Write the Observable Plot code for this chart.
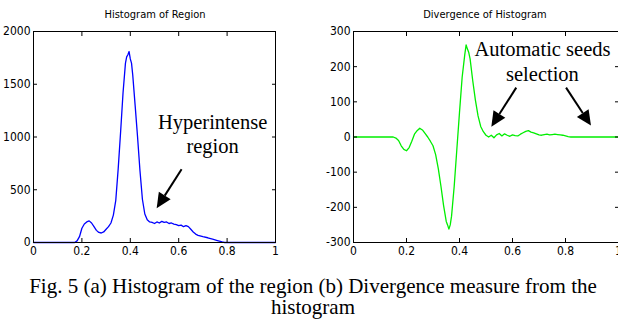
<!DOCTYPE html>
<html>
<head>
<meta charset="utf-8">
<script src="https://cdn.jsdelivr.net/npm/d3@7"></script>
<script src="https://cdn.jsdelivr.net/npm/@observablehq/plot@0.6"></script>
<style>
  html, body { margin: 0; padding: 0; background: #fff; overflow: hidden; }
  #wrap { position: relative; width: 618px; height: 322px; overflow: hidden; background: #fff; }
  .panel { position: absolute; top: 0; }
  .panel svg { max-width: none !important; }
  .ptitle { position: absolute; top: 8px; font: 11px "Liberation Sans Narrow", "DejaVu Sans Condensed", "Arial Narrow", "Liberation Sans", sans-serif; font-stretch: condensed; color: #000; white-space: nowrap; transform: translateX(-50%); }
  .cap { position: absolute; left: 0; width: 626px; text-align: center; font: 21px "Liberation Serif", "Times New Roman", serif; color: #000; line-height: 20px; white-space: nowrap; }
</style>
</head>
<body>
<div id="wrap">
  <div class="ptitle" style="left:155px">Histogram of Region</div>
  <div class="ptitle" style="left:485px">Divergence of Histogram</div>
  <div id="left" class="panel" style="left:0px; width:300px"></div>
  <div id="right" class="panel" style="left:300px; width:330px"></div>
  <div class="cap" style="top:276px">Fig. 5 (a) Histogram of the region (b) Divergence measure from the</div>
  <div class="cap" style="top:297px">histogram</div>
</div>
<script>
// ---- Data: histogram of region (a) ----
const histX = [0, 0.10, 0.17, 0.18, 0.19, 0.20, 0.21, 0.22, 0.23, 0.24, 0.25, 0.26, 0.27, 0.28, 0.29, 0.30, 0.31, 0.32, 0.33, 0.34, 0.35, 0.36, 0.37, 0.38, 0.385, 0.39, 0.395, 0.40, 0.405, 0.41, 0.42, 0.43, 0.44, 0.45, 0.46, 0.47, 0.48, 0.49, 0.50, 0.51, 0.52, 0.53, 0.54, 0.55, 0.56, 0.57, 0.58, 0.59, 0.60, 0.61, 0.62, 0.63, 0.64, 0.65, 0.66, 0.67, 0.68, 0.70, 0.72, 0.74, 0.76, 0.78, 0.79, 0.85, 1.0];
const histY = [0, 0, 0, 15, 55, 135, 175, 195, 205, 185, 150, 115, 95, 90, 100, 125, 150, 185, 260, 400, 700, 1050, 1420, 1700, 1760, 1780, 1810, 1740, 1700, 1590, 1300, 1000, 680, 410, 270, 215, 195, 190, 180, 195, 185, 200, 190, 195, 180, 185, 175, 170, 160, 165, 150, 160, 150, 125, 100, 80, 68, 55, 45, 32, 18, 5, 0, 0, 0];

// ---- Data: divergence of histogram (b) ----
const divX = [0, 0.10, 0.15, 0.16, 0.17, 0.18, 0.19, 0.20, 0.21, 0.22, 0.23, 0.24, 0.25, 0.26, 0.27, 0.28, 0.29, 0.30, 0.31, 0.32, 0.33, 0.34, 0.35, 0.355, 0.36, 0.365, 0.37, 0.38, 0.39, 0.40, 0.41, 0.42, 0.425, 0.43, 0.435, 0.44, 0.45, 0.46, 0.47, 0.48, 0.49, 0.50, 0.51, 0.52, 0.53, 0.54, 0.55, 0.56, 0.57, 0.58, 0.59, 0.60, 0.61, 0.62, 0.63, 0.64, 0.65, 0.66, 0.67, 0.68, 0.69, 0.70, 0.71, 0.72, 0.73, 0.74, 0.75, 0.76, 0.77, 0.78, 0.79, 0.80, 0.81, 0.82, 0.90, 1.0];
const divY = [0, 0, 0, -3, -10, -25, -35, -39, -30, -12, 8, 18, 25, 20, 10, 0, -12, -25, -50, -90, -140, -195, -240, -250, -262, -250, -225, -140, -35, 70, 170, 235, 262, 250, 240, 222, 160, 105, 60, 30, 15, 5, 0, 5, -2, 6, 10, 3, 9, 5, 2, 6, 4, 3, 8, 12, 16, 18, 14, 12, 9, 6, 5, 7, 8, 6, 7, 8, 7, 6, 5, 3, 1, 0, 0, 0];

// ---- Annotations ----
const leftLabels = ["Hyperintense", "region"];
const leftLabelX = [0.74, 0.74];
const leftLabelY = [1135, 915];
const leftArrowFrom = [[0.614, 690]];
const leftArrowTo = [[0.511, 320]];

const rightLabels = ["Automatic seeds", "selection"];
const rightLabelX = [0.713, 0.713];
const rightLabelY = [249, 177];
const rightArrowFrom = [[0.616, 139], [0.804, 139]];
const rightArrowTo = [[0.522, 28], [0.898, 31]];

const xTicks = [0, 0.2, 0.4, 0.6, 0.8, 1];
const histTicks = [0, 500, 1000, 1500, 2000];
const divTicks = [-300, -200, -100, 0, 100, 200, 300];

const tickFont = '"Liberation Sans Narrow", "DejaVu Sans Condensed", "Arial Narrow", "Liberation Sans", sans-serif';

function arrowMark(from, to) {
  return (index, scales) => {
    const g = d3.create("svg:g");
    from.forEach((f, i) => {
      const t = to[i];
      const x1 = scales.x(f[0]), y1 = scales.y(f[1]);
      const x2 = scales.x(t[0]), y2 = scales.y(t[1]);
      const dx = x2 - x1, dy = y2 - y1, L = Math.hypot(dx, dy);
      const ux = dx / L, uy = dy / L;
      const hl = 15, hw = 7;
      const bx = x2 - ux * hl, by = y2 - uy * hl;
      g.append("line").attr("x1", x1).attr("y1", y1).attr("x2", bx).attr("y2", by)
        .attr("stroke", "black").attr("stroke-width", 2);
      g.append("path")
        .attr("d", `M${x2},${y2}L${bx - uy * hw},${by + ux * hw}L${bx + uy * hw},${by - ux * hw}Z`)
        .attr("fill", "black");
    });
    return g.node();
  };
}

const fmt = d => String(d);

function panel({x, y, color, domainY, ticksY, width, mL, mR, labels, labelX, labelY, arrFrom, arrTo}) {
  const lineData = x.map((v, i) => ({x: v, y: y[i]}));
  const labelData = labels.map((t, i) => ({t, x: labelX[i], y: labelY[i]}));
  return Plot.plot({
    width, height: 258,
    marginLeft: mL, marginRight: mR, marginTop: 31, marginBottom: 16,
    style: {fontFamily: tickFont, fontSize: "12px", fontStretch: "condensed", background: "transparent", overflow: "visible", maxWidth: "none"},
    x: {domain: [0, 1], ticks: xTicks, label: null},
    y: {domain: domainY, ticks: ticksY, label: null},
    marks: [
      Plot.line(lineData, {x: "x", y: "y", stroke: color, strokeWidth: 1.3}),
      Plot.frame({stroke: "black", strokeWidth: 1}),
      Plot.axisX(xTicks, {anchor: "bottom", tickSize: -4, tickPadding: 8, fontSize: 12, fill: "black", tickFormat: fmt, label: null}),
      Plot.axisX(xTicks, {anchor: "top", tickSize: -4, tickFormat: () => "", label: null}),
      Plot.axisY(ticksY, {anchor: "left", tickSize: -4, tickPadding: 7, fontSize: 12, fill: "black", tickFormat: fmt, label: null}),
      Plot.axisY(ticksY, {anchor: "right", tickSize: -4, tickFormat: () => "", label: null}),
      Plot.text(labelData, {x: "x", y: "y", text: "t", fontFamily: '"Liberation Serif", "Times New Roman", serif', fontSize: 20.5, fill: "black", textAnchor: "middle"}),
      arrowMark(arrFrom, arrTo)
    ]
  });
}

document.getElementById("left").append(panel({
  x: histX, y: histY, color: "#0000ff", domainY: [0, 2000], ticksY: histTicks,
  width: 300, mL: 33, mR: 25,
  labels: leftLabels, labelX: leftLabelX, labelY: leftLabelY,
  arrFrom: leftArrowFrom, arrTo: leftArrowTo
}));
document.getElementById("right").append(panel({
  x: divX, y: divY, color: "#00ee00", domainY: [-300, 300], ticksY: divTicks,
  width: 330, mL: 53, mR: 12,
  labels: rightLabels, labelX: rightLabelX, labelY: rightLabelY,
  arrFrom: rightArrowFrom, arrTo: rightArrowTo
}));
</script>
</body>
</html>
